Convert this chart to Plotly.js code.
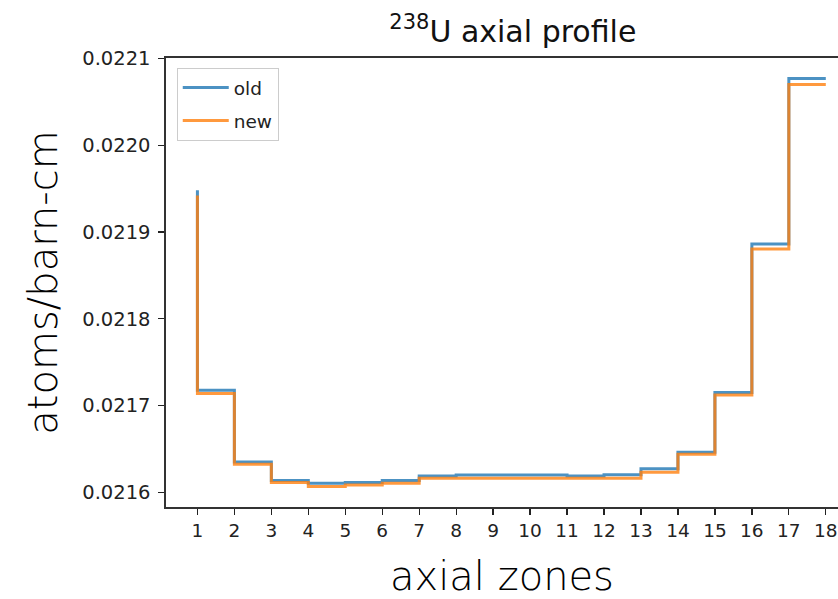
<!DOCTYPE html>
<html>
<head>
<meta charset="utf-8">
<script src="https://cdn.plot.ly/plotly-3.0.1.min.js"></script>
<style>html,body{margin:0;padding:0;background:#fff;overflow:hidden;}#chart{width:838px;height:599px;}</style>
</head>
<body>
<div id="chart"></div>
<script>
// axial zone index
const zones = [1,2,3,4,5,6,7,8,9,10,11,12,13,14,15,16,17,18];
// 238U number density (atoms/barn-cm)
const oldValues = [0.021948,0.0217177,0.0216349,0.0216134,0.0216103,0.0216111,0.0216134,0.0216188,0.02162,0.02162,0.02162,0.0216188,0.0216203,0.0216272,0.021646,0.021715,0.021886,0.022077];
const newValues = [0.021942,0.0217138,0.0216322,0.0216111,0.0216066,0.0216085,0.0216103,0.0216161,0.0216161,0.0216161,0.0216161,0.0216161,0.0216161,0.021623,0.0216437,0.021712,0.0218805,0.022070];
const seriesNames = ['old','new'];
const yTicks = [0.0216,0.0217,0.0218,0.0219,0.0220,0.0221];

const tickFont = {family:'DejaVu Sans', size:19.5, color:'#222'};
const bigFont = {family:'DejaVu Sans', size:40, color:'#000', weight:200};

const traces = [
  {x:zones, y:oldValues, name:seriesNames[0], legendgroup:'g1', mode:'lines', line:{shape:'vh', color:'#1f77b4', width:3}, opacity:0.8},
  {x:zones, y:newValues, name:seriesNames[1], legendgroup:'g2', mode:'lines', line:{shape:'vh', color:'#ff7f0e', width:3}, opacity:0.8}
];

const layout = {
  width:838, height:599,
  margin:{l:166, r:0, t:58, b:92, pad:0},
  paper_bgcolor:'#fff', plot_bgcolor:'#fff',
  showlegend:true,
  title:{text:'<sup>238</sup>U axial profile', font:{family:'DejaVu Sans', size:30, color:'#111'},
         xref:'container', x:0.612, xanchor:'center', yref:'container', y:0.948, yanchor:'middle'},
  xaxis:{range:[0.15,18.33], tickvals:zones, ticktext:zones.map(String), ticks:'outside', ticklen:6, tickwidth:1.3, tickcolor:'#222',
         showline:true, linecolor:'#333', linewidth:1.6, mirror:true, showgrid:false, zeroline:false,
         tickfont:{family:'DejaVu Sans', size:18.5, color:'#222'}, ticklabeloverflow:'allow', automargin:false,
         title:{text:'axial zones', font:bigFont, standoff:22}},
  yaxis:{range:[0.021583,0.0221005], tickvals:yTicks, tickformat:'.4f', ticks:'outside', ticklen:6, tickwidth:1.3, tickcolor:'#222',
         showline:true, linecolor:'#333', linewidth:1.6, mirror:false, showgrid:false, zeroline:false,
         tickfont:tickFont, ticklabelstandoff:4, ticklabeloverflow:'allow', automargin:false,
         title:{text:'atoms/barn-cm', font:bigFont, standoff:12}},
  legend:{x:0.016, y:0.978, xanchor:'left', yanchor:'top', bgcolor:'rgba(255,255,255,0.9)', bordercolor:'#cccccc', borderwidth:1,
          itemwidth:46, tracegroupgap:6,
          font:{family:'DejaVu Sans', size:18.5, color:'#222'}}
};

Plotly.newPlot('chart', traces, layout, {staticPlot:true, displayModeBar:false});
</script>
</body>
</html>
